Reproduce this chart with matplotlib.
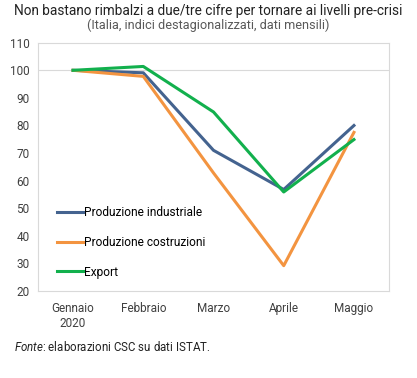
import matplotlib.pyplot as plt

plt.rcParams['font.family'] = ['Roboto', 'DejaVu Sans']
plt.rcParams['mathtext.fontset'] = 'custom'
plt.rcParams['mathtext.rm'] = 'Roboto'
plt.rcParams['mathtext.it'] = 'Roboto:italic'

mesi = ["Gennaio\n2020", "Febbraio", "Marzo", "Aprile", "Maggio"]
prod_industriale = [100, 99.1, 71.0, 56.8, 80.0]
prod_costruzioni = [100, 97.8, 62.8, 29.2, 77.5]
export = [100, 101.4, 84.9, 55.9, 74.9]

fig = plt.figure(figsize=(4.17, 3.78), dpi=100)
ax = fig.add_axes([0.091, 0.230, 0.842, 0.657])

x = range(len(mesi))
ax.axhline(100, color='#d9d9d9', lw=0.8, zorder=0)
ax.plot(x, prod_industriale, color='#44638f', lw=2.2, label="Produzione industriale")
ax.plot(x, prod_costruzioni, color='#f39440', lw=2.2, label="Produzione costruzioni")
ax.plot(x, export, color='#12b04d', lw=2.2, label="Export")

ax.set_xlim(-0.5, 4.5)
ax.set_ylim(20, 110)
ax.set_yticks(range(20, 111, 10))
ax.set_xticks(list(x))
ax.set_xticklabels(mesi)
ax.tick_params(length=0, labelsize=8.5, colors='#404040', pad=8)
ax.tick_params(axis='y', pad=6)
for s in ax.spines.values():
    s.set_color('#d9d9d9')
    s.set_linewidth(0.8)

ax.legend(loc='upper left', bbox_to_anchor=(0.054, 0.342), frameon=False,
          fontsize=8.6, handlelength=2.2, handletextpad=0.1,
          labelspacing=1.4, borderpad=0, borderaxespad=0)

fig.text(0.5, 0.970, "Non bastano rimbalzi a due/tre cifre per tornare ai livelli pre-crisi",
         ha='center', va='center', fontsize=9.8, color='#222222')
fig.text(0.5, 0.932, "(Italia, indici destagionalizzati, dati mensili)",
         ha='center', va='center', fontsize=9.2, color='#595959')
fig.text(0.034, 0.082, r"$\mathit{Fonte}$: elaborazioni CSC su dati ISTAT.",
         ha='left', va='center', fontsize=8.3, color='#222222')

fig.savefig("out.png", dpi=100)
